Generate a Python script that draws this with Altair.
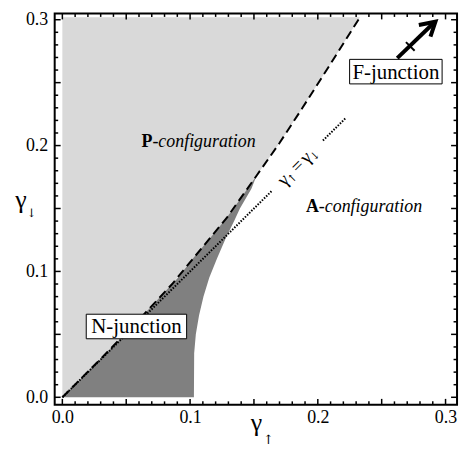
import altair as alt
import pandas as pd

FONT = "Liberation Serif"
ARROW_FONT = "DejaVu Serif"

# ---------------- axes ----------------
x_domain = [-0.006, 0.309]
y_domain = [-0.006, 0.305]
label_values = [0.0, 0.1, 0.2, 0.3]
major_ticks = [0.0, 0.05, 0.10, 0.15, 0.20, 0.25, 0.30]
minor_ticks = [0.01, 0.02, 0.03, 0.04, 0.06, 0.07, 0.08, 0.09,
               0.11, 0.12, 0.13, 0.14, 0.16, 0.17, 0.18, 0.19,
               0.21, 0.22, 0.23, 0.24, 0.26, 0.27, 0.28, 0.29]

# ---------------- P / A boundary (dashed) ----------------
dash_x = [0.0, 0.030, 0.064, 0.086, 0.103, 0.129, 0.152, 0.170, 0.188, 0.210, 0.233]
dash_y = [0.0, 0.0305, 0.066, 0.090, 0.111, 0.143, 0.176, 0.202, 0.230, 0.265, 0.302]
gray_top = 0.302

# ---------------- N-junction region ----------------
dark_y = [0.0, 0.035, 0.050, 0.065, 0.080, 0.095, 0.110, 0.128, 0.140, 0.150, 0.1656, 0.176]
dark_left = [0.0, 0.0345, 0.0487, 0.063, 0.0768, 0.0905, 0.102, 0.1168, 0.1266, 0.1339, 0.1448, 0.152]
dark_right = [0.103, 0.1032, 0.1045, 0.107, 0.1105, 0.115, 0.121, 0.1286, 0.1345, 0.139, 0.148, 0.152]

# ---------------- gamma_up = gamma_down line ----------------
diag_x = [0.0, 0.164, 0.204, 0.222]
diag_y = [0.0, 0.164, 0.204, 0.222]
diag_seg = ["a", "a", "b", "b"]
diag_label_at = [0.184]
diag_parts = ["γ", "↑", "=", "γ", "↓"]

# ---------------- labels ----------------
region_bold = ["P", "A"]
region_ital = ["-configuration", "-configuration"]
region_x = [0.0705, 0.2008]
region_y = [0.203, 0.151]

box_text = ["F-junction", "N-junction"]
box_x1 = [0.2249, 0.0187]
box_x2 = [0.2973, 0.0973]
box_y1 = [0.249, 0.0465]
box_y2 = [0.2685, 0.0660]

# ---------------- arrow ----------------
shaft_x = [0.2622, 0.2905]
shaft_y = [0.2695, 0.2972]
head_x = [0.2791, 0.2921, 0.2882]
head_y = [0.2958, 0.2984, 0.2866]
bar_x = [0.2690, 0.2758]
bar_y = [0.2822, 0.2754]

x_title = ["γ", "↑"]
y_title = ["γ", "↓"]

W, H = 405, 394

xs = alt.Scale(domain=x_domain, nice=False, zero=False)
ys = alt.Scale(domain=y_domain, nice=False, zero=False)
X_AX = alt.Axis(values=label_values, format=".1f", ticks=False, domain=False, grid=False,
                labelFont=FONT, labelFontSize=18, labelColor="black", title=None,
                labelFlush=False, labelPadding=4)
Y_AX = alt.Axis(values=label_values, format=".1f", ticks=False, domain=False, grid=False,
                labelFont=FONT, labelFontSize=18, labelColor="black", title=None,
                labelFlush=False, labelPadding=7)


def X(f):
    return alt.X(f, type="quantitative", scale=xs, axis=X_AX)


def Y(f):
    return alt.Y(f, type="quantitative", scale=ys, axis=Y_AX)


layers = []

# light gray P region
light = pd.DataFrame({"x": dash_x, "y": dash_y, "top": [gray_top] * len(dash_x)})
layers.append(alt.Chart(light).mark_area(color="#d9d9d9", opacity=1).encode(
    x=X("x"), y=Y("y"), y2="top"))

# dark N region
dark = pd.DataFrame({"y": dark_y, "xl": dark_left, "xr": dark_right})
layers.append(alt.Chart(dark).mark_area(color="#808080", opacity=1, orient="horizontal").encode(
    y=Y("y"), x=X("xl"), x2="xr"))

# dotted diagonal
diag = pd.DataFrame({"x": diag_x, "y": diag_y, "s": diag_seg})
layers.append(alt.Chart(diag).mark_line(color="black", strokeWidth=2, strokeDash=[1.5, 1.5]).encode(
    x=X("x"), y=Y("y"), detail="s:N"))

# dashed boundary
dsh = pd.DataFrame({"x": dash_x, "y": dash_y})
layers.append(alt.Chart(dsh).mark_line(color="black", strokeWidth=2, strokeDash=[9, 5]).encode(
    x=X("x"), y=Y("y")))

# diagonal label pieces (rotated, offsets in the text frame)
piece_style = [(19, -20, 0, FONT), (11, -12.5, 6, ARROW_FONT), (19, 0, 0, FONT),
               (19, 12, 0, FONT), (11, 19.5, 6, ARROW_FONT)]
for txt, (fs, dx, dy, fnt) in zip(diag_parts, piece_style):
    d = pd.DataFrame({"x": diag_label_at, "y": diag_label_at, "t": [txt]})
    layers.append(alt.Chart(d).mark_text(font=fnt, fontSize=fs, angle=315, dx=dx, dy=dy,
                                         align="center", baseline="middle", color="black").encode(
        x=X("x"), y=Y("y"), text="t:N"))

# region labels
reg = pd.DataFrame({"x": region_x, "y": region_y, "b": region_bold, "i": region_ital})
layers.append(alt.Chart(reg).mark_text(font=FONT, fontSize=18, fontWeight="bold", align="right",
                                       baseline="middle", color="black").encode(
    x=X("x"), y=Y("y"), text="b:N"))
layers.append(alt.Chart(reg).mark_text(font=FONT, fontSize=18, fontStyle="italic", align="left",
                                       baseline="middle", color="black").encode(
    x=X("x"), y=Y("y"), text="i:N"))

# boxed labels
box = pd.DataFrame({"x1": box_x1, "x2": box_x2, "y1": box_y1, "y2": box_y2, "t": box_text})
box["cx"] = (box["x1"] + box["x2"]) / 2
box["cy"] = (box["y1"] + box["y2"]) / 2
layers.append(alt.Chart(box).mark_rect(fill="white", stroke="black", strokeWidth=1).encode(
    x=X("x1"), x2="x2", y=Y("y1"), y2="y2"))
layers.append(alt.Chart(box).mark_text(font=FONT, fontSize=21, align="center", baseline="middle",
                                       dy=1, color="black").encode(
    x=X("cx"), y=Y("cy"), text="t:N"))

# arrow
shaft = pd.DataFrame({"x": [shaft_x[0]], "y": [shaft_y[0]], "x2": [shaft_x[1]], "y2": [shaft_y[1]]})
layers.append(alt.Chart(shaft).mark_rule(color="black", strokeWidth=4).encode(
    x=X("x"), y=Y("y"), x2="x2", y2="y2"))
head = pd.DataFrame({"x": head_x, "y": head_y, "o": [0, 1, 2]})
layers.append(alt.Chart(head).mark_line(color="black", strokeWidth=4, strokeJoin="miter").encode(
    x=X("x"), y=Y("y"), order="o:Q"))
bar = pd.DataFrame({"x": [bar_x[0]], "y": [bar_y[0]], "x2": [bar_x[1]], "y2": [bar_y[1]]})
layers.append(alt.Chart(bar).mark_rule(color="black", strokeWidth=2).encode(
    x=X("x"), y=Y("y"), x2="x2", y2="y2"))

# inward ticks on all four sides
for vals, ln in ((major_ticks, 6), (minor_ticks, 3.5)):
    td = pd.DataFrame({"v": vals})
    layers.append(alt.Chart(td).mark_rule(color="black", strokeWidth=1.5).encode(
        x=X("v"), y=alt.value(H), y2=alt.value(H - ln)))
    layers.append(alt.Chart(td).mark_rule(color="black", strokeWidth=1.5).encode(
        x=X("v"), y=alt.value(0), y2=alt.value(ln)))
    layers.append(alt.Chart(td).mark_rule(color="black", strokeWidth=1.5).encode(
        y=Y("v"), x=alt.value(0), x2=alt.value(ln)))
    layers.append(alt.Chart(td).mark_rule(color="black", strokeWidth=1.5).encode(
        y=Y("v"), x=alt.value(W), x2=alt.value(W - ln)))

# axis titles (gamma with arrow subscripts)
layers.append(alt.Chart(pd.DataFrame({"t": [x_title[0]]})).mark_text(
    font=FONT, fontSize=26, align="center", baseline="alphabetic", color="black").encode(
    x=alt.value(203), y=alt.value(420), text="t:N"))
layers.append(alt.Chart(pd.DataFrame({"t": [x_title[1]]})).mark_text(
    font=ARROW_FONT, fontSize=13, align="center", baseline="alphabetic", color="black").encode(
    x=alt.value(215), y=alt.value(433), text="t:N"))
layers.append(alt.Chart(pd.DataFrame({"t": [y_title[0]]})).mark_text(
    font=FONT, fontSize=26, align="center", baseline="alphabetic", color="black").encode(
    x=alt.value(-34), y=alt.value(196), text="t:N"))
layers.append(alt.Chart(pd.DataFrame({"t": [y_title[1]]})).mark_text(
    font=ARROW_FONT, fontSize=12, align="center", baseline="alphabetic", color="black").encode(
    x=alt.value(-23), y=alt.value(205), text="t:N"))

chart = alt.layer(*layers).properties(
    width=W, height=H,
    padding={"left": 47, "top": 4, "right": 6, "bottom": 44},
    autosize=alt.AutoSizeParams(type="none"),
    background="white",
).configure_view(stroke="black", strokeWidth=2)

chart.save("out.html", embed_options={"renderer": "svg", "actions": False})
